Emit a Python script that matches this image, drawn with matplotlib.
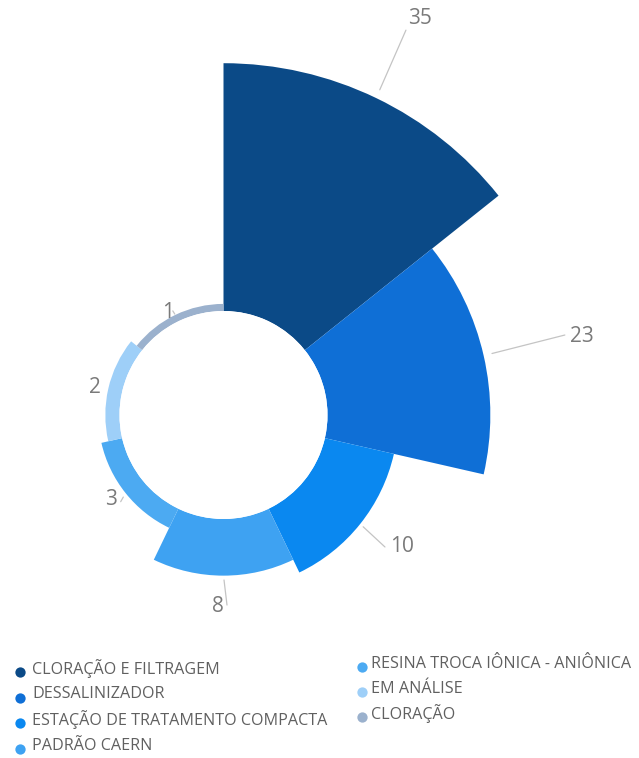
import numpy as np
import matplotlib
matplotlib.use("Agg")
import matplotlib.pyplot as plt

plt.rcParams["font.family"] = ["Open Sans", "DejaVu Sans"]

# treatment type counts, one rose slice each (equal angles, radius ~ count)
categories = [
    "CLORAÇÃO E FILTRAGEM",
    "DESSALINIZADOR",
    "ESTAÇÃO DE TRATAMENTO COMPACTA",
    "PADRÃO CAERN",
    "RESINA TROCA IÔNICA - ANIÔNICA",
    "EM ANÁLISE",
    "CLORAÇÃO",
]
values = [35, 23, 10, 8, 3, 2, 1]
colors = ["#0b4a87", "#0f6fd6", "#0a88f0", "#3ea2f2", "#4caaf2", "#9ecff8", "#9bb1cd"]

# label placement: text / leader-line end offsets from the slice's outer mid point (px, y down)
text_off = [(43.8, -79.9), (98.2, -19.6), (41.8, 23.0), (-5.5, 30.4), (-14.6, 6.9), (-13.4, -1.2), (-7.3, -2.5)]
line_end = [(29.8, -67.9), (81.2, -20.6), (24.8, 23.0), (3.5, 29.4), (-4.9, 8.6), None, (-2.5, -4.0)]
line_gap = [9.0, 8.6, 4.1, 4.4, 4.6, 0, 1.0]

W, H = 639, 758
fig = plt.figure(figsize=(W / 100, H / 100), dpi=100)

# polar axes placed in pixel terms: centre, hole radius, px per unit
cx, cy = 223.5, 415.0
r_hole = 104.0
k = 7.08
rmax = 36
R = r_hole + rmax * k
ax = fig.add_axes([(cx - R) / W, (H - cy - R) / H, 2 * R / W, 2 * R / H], projection="polar")
ax.set_theta_zero_location("N")
ax.set_theta_direction(-1)
ax.set_ylim(0, rmax)
ax.set_rorigin(-r_hole / k)
ax.axis("off")

n = len(values)
width = 2 * np.pi / n
theta = np.arange(n) * width + width / 2
ax.bar(theta, values, width=width, bottom=0, color=colors, linewidth=0, align="center")

px = 0.72  # points per pixel at dpi 100
for t, v, toff, lend, gap in zip(theta, values, text_off, line_end, line_gap):
    if lend is not None:
        ax.annotate("", xy=(t, v), xytext=(lend[0] * px, -lend[1] * px),
                    textcoords="offset points", annotation_clip=False,
                    arrowprops=dict(arrowstyle="-", color="#c4c4c4", lw=0.9,
                                    shrinkA=0, shrinkB=gap * px))
    ax.annotate(str(v), xy=(t, v), xytext=(toff[0] * px, -toff[1] * px),
                textcoords="offset points", ha="center", va="center",
                fontsize=15, color="#7a7a7a", annotation_clip=False)

# legend in two columns below the rose
lg = fig.add_axes([0, 0, 1, 1])
lg.set_xlim(0, W)
lg.set_ylim(H, 0)
lg.axis("off")
for i, (name, c) in enumerate(zip(categories, colors)):
    col, row = divmod(i, 4)
    mx, tx = (19.5, 32) if col == 0 else (361.5, 371)
    y = (669 + row * 25.5) if col == 0 else (664 + row * 25)
    lg.scatter([mx], [y + 3], s=55, color=c, linewidths=0)
    lg.text(tx, y, name, fontsize=11.6, color="#606060", va="center", ha="left")

fig.savefig("out.png", dpi=100)
